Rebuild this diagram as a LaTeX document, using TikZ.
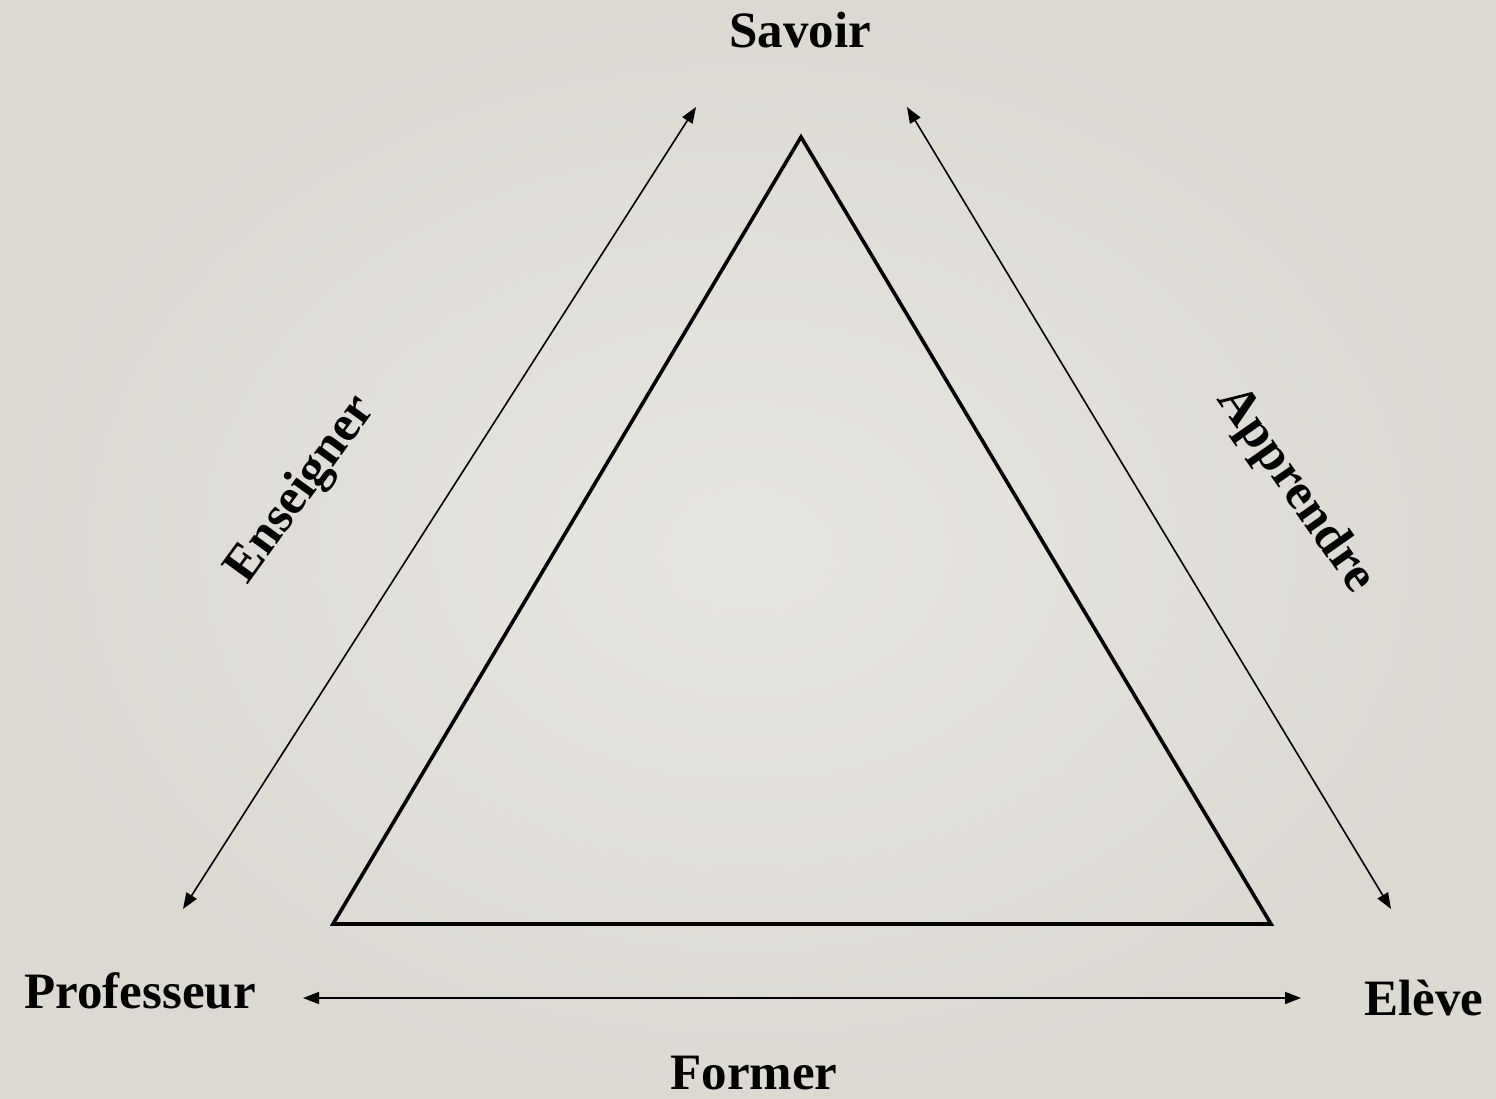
\documentclass[tikz,border=0pt]{standalone}
\usepackage{fontspec}
\setmainfont{Liberation Serif}
\usetikzlibrary{arrows.meta}
\definecolor{bgin}{HTML}{E8E6E2}
\definecolor{bgout}{HTML}{DCD9D3}
\begin{document}
\begin{tikzpicture}[x=1pt,y=-1pt,
  lbl/.style={font=\fontsize{51}{55}\selectfont\bfseries, inner sep=0pt},
  rel/.style={line width=1.6pt, {Triangle[length=16pt,width=12pt]}-{Triangle[length=16pt,width=12pt]}},
  tri/.style={line width=3.6pt, line join=miter}]
\shade[inner color=bgin, outer color=bgout] (0,0) rectangle (1496,1099);
\useasboundingbox (0,0) rectangle (1496,1099);
% triangle
\coordinate (A) at (801,137);
\coordinate (B) at (333,924);
\coordinate (C) at (1271,924);
\draw[tri] (A) -- (B) -- (C) -- cycle;
% arrow endpoints
\coordinate (l1) at (183,909);
\coordinate (l2) at (696,107);
\coordinate (r1) at (907,107);
\coordinate (r2) at (1391,909);
\coordinate (b1) at (303,998);
\coordinate (b2) at (1301,998);
\draw[rel] (l1) -- (l2);
\draw[rel] (r1) -- (r2);
\draw[rel] (b1) -- (b2);
% labels
\node[lbl] (savoir) at (800,30) {Savoir};
\node[lbl] (prof) at (140,991) {Professeur};
\node[lbl] (eleve) at (1424,998) {Elève};
\node[lbl] (former) at (754,1073) {Former};
\node[lbl, rotate=54] (ens) at (302,490) {Enseigner};
\node[lbl, rotate=-55] (app) at (1295,490) {Apprendre};
\end{tikzpicture}
\end{document}
